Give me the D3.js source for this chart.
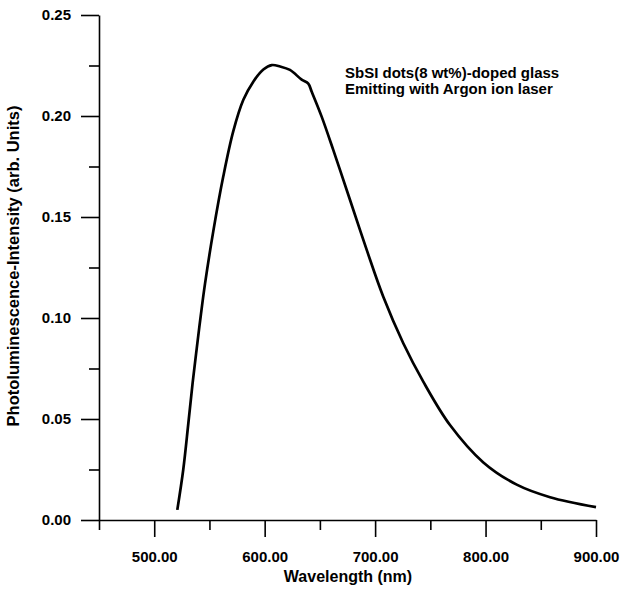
<!DOCTYPE html>
<html>
<head>
<meta charset="utf-8">
<script src="https://cdn.jsdelivr.net/npm/d3@7"></script>
<style>
  body { margin: 0; background: #fff; }
  text { font-family: "Liberation Sans", Arial, sans-serif; fill: #000; }
</style>
</head>
<body>
<div id="chart"></div>
<script>
// wavelength (nm) and PL intensity
let wavelength = [520.9, 526.3, 530.9, 534.8, 538.5, 542.1, 546.0, 553.5, 562.5, 571.6,
    580.7, 589.7, 598.8, 606.4, 614.0, 622.9, 633.5, 639.5, 642.6, 651.6,
    662.1, 668.2, 677.3, 692.4, 707.4, 725.5, 743.6, 767.8, 798.0, 828.2,
    858.4, 900.0];
let intensity = [0.0050, 0.0250, 0.0479, 0.0680, 0.0850, 0.1010, 0.1170, 0.1430, 0.1700, 0.1925,
    0.2080, 0.2170, 0.2230, 0.2252, 0.2245, 0.2228, 0.2180, 0.2160, 0.2120, 0.1997,
    0.1832, 0.1733, 0.1584, 0.1337, 0.1105, 0.0875, 0.0685, 0.0470, 0.0285, 0.0175,
    0.0113, 0.0064];

let xMajor = [500, 600, 700, 800, 900];
let xMinor = [450, 550, 650, 750, 850];
let yMajor = [0, 0.05, 0.10, 0.15, 0.20, 0.25];
let yMinor = [0.025, 0.075, 0.125, 0.175, 0.225];

let legendLines = ["SbSI dots(8 wt%)-doped glass", "Emitting with Argon ion laser"];

let width = 621, height = 590;

let svg = d3.select("#chart").append("svg")
    .attr("width", width)
    .attr("height", height);

let x = d3.scaleLinear().domain([450, 900]).range([99, 596]);
let y = d3.scaleLinear().domain([0, 0.25]).range([520, 15]);

//Minor ticks first, then the major axes on top
svg.append("g")
    .attr("transform", "translate(0,520)")
    .call(d3.axisBottom(x).tickValues(xMinor).tickSize(10).tickFormat(""))
    .call(g => g.select(".domain").remove());

svg.append("g")
    .attr("transform", "translate(99,0)")
    .call(d3.axisLeft(y).tickValues(yMinor).tickSize(10).tickFormat(""))
    .call(g => g.select(".domain").remove());

let xAxis = svg.append("g")
    .attr("transform", "translate(0,520)")
    .call(d3.axisBottom(x).tickValues(xMajor).tickSize(17).tickSizeOuter(0)
        .tickPadding(14).tickFormat(d3.format(".2f")));

let yAxis = svg.append("g")
    .attr("transform", "translate(99,0)")
    .call(d3.axisLeft(y).tickValues(yMajor).tickSize(18).tickSizeOuter(0)
        .tickPadding(10).tickFormat(d3.format(".2f")));

[xAxis, yAxis].forEach(function(g) {
    g.selectAll("path, line").attr("stroke", "#000").attr("stroke-width", 1.6);
    g.selectAll("text")
        .style("font-size", "15px")
        .style("font-weight", "bold")
        .style("font-family", "'Liberation Sans', Arial, sans-serif");
});
svg.selectAll("g line").attr("stroke", "#000").attr("stroke-width", 1.6);

//Spectrum
let points = wavelength.map((w, i) => [w, intensity[i]]);
let line = d3.line()
    .x(d => x(d[0]))
    .y(d => y(d[1]))
    .curve(d3.curveCatmullRom.alpha(0.5));

svg.append("path")
    .datum(points)
    .attr("fill", "none")
    .attr("stroke", "#000")
    .attr("stroke-width", 2.7)
    .attr("stroke-linejoin", "round")
    .attr("d", line);

//Axis titles
svg.append("text")
    .attr("x", 348)
    .attr("y", 582)
    .attr("text-anchor", "middle")
    .style("font-size", "16px")
    .style("font-weight", "bold")
    .text("Wavelength (nm)");

svg.append("text")
    .attr("transform", "translate(19,266) rotate(-90)")
    .attr("text-anchor", "middle")
    .style("font-size", "16.5px")
    .style("font-weight", "bold")
    .text("Photoluminescence-Intensity (arb. Units)");

//Annotation
svg.selectAll(".legend")
    .data(legendLines)
    .enter()
    .append("text")
    .attr("class", "legend")
    .attr("x", 345)
    .attr("y", (d, i) => 78 + i * 16)
    .style("font-size", "15px")
    .style("font-weight", "bold")
    .text(d => d);
</script>
</body>
</html>
